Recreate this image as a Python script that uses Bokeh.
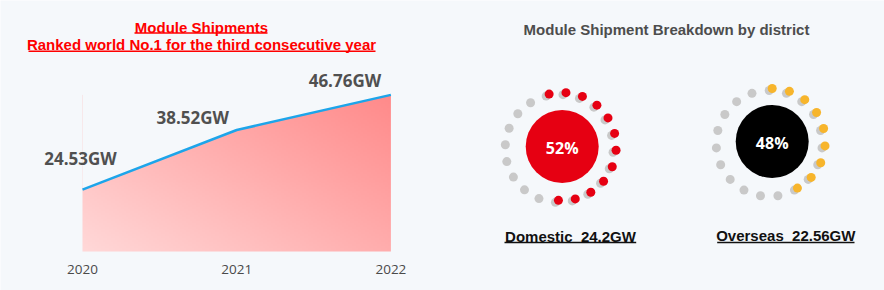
import math
import numpy as np
from bokeh.plotting import figure
from bokeh.models import Range1d
from bokeh.core.properties import value
from bokeh.embed import file_html
from bokeh.resources import INLINE

# ---------------- data ----------------
years = [2020, 2021, 2022]
year_labels = ["2020", "2021", "2022"]
shipments_gw = [24.53, 38.52, 46.76]
shipment_labels = ["24.53GW", "38.52GW", "46.76GW"]
base_gw = 10

districts = ["Domestic", "Overseas"]
district_gw = [24.2, 22.56]
district_share = [52, 48]
district_labels = ["Domestic \u00a024.2GW", "Overseas \u00a022.56GW"]
colored_dots = [12, 9]
total_dots = [20, 19]

left_titles = ["Module Shipments", "Ranked world No.1 for the third consecutive year"]
right_title = "Module Shipment Breakdown by district"

# ---------------- layout / style ----------------
W, H = 884, 290
BG = "#f5f8fb"
PX_PER_YEAR = 154.2
X2020_PX = 82
PX_PER_GW = 4.26
BASE_PX = 251

p = figure(width=W, height=H, x_range=Range1d(0, W), y_range=Range1d(H, 0),
           output_backend="svg", toolbar_location=None,
           x_axis_type=None, y_axis_type=None, min_border=0,
           outline_line_color=None, background_fill_color=BG, border_fill_color=BG)
for g in p.grid:
    g.visible = False

yr0 = years[0] - X2020_PX / PX_PER_YEAR
p.extra_x_ranges = {"yrs": Range1d(yr0, yr0 + W / PX_PER_YEAR)}
gw0 = base_gw - (H - BASE_PX) / PX_PER_GW
p.extra_y_ranges = {"gw": Range1d(gw0, gw0 + H / PX_PER_GW)}

# gradient fill under the line: pink gradient image over the bounding box,
# then the part above the line is covered with the background colour
ny, nx = 80, 160
u = np.linspace(0, 1, nx)[None, :]
v = np.linspace(0, 1, ny)[:, None]
t = np.clip(0.55 * u + 0.45 * v, 0, 1)
light = np.array([0xff, 0xd8, 0xd8], dtype=float)
dark = np.array([0xff, 0x8a, 0x8a], dtype=float)
img = np.zeros((ny, nx), dtype=np.uint32)
view = img.view(dtype=np.uint8).reshape((ny, nx, 4))
for ch in range(3):
    view[:, :, ch] = (light[ch] + (dark[ch] - light[ch]) * t).astype(np.uint8)
view[:, :, 3] = 255
top_gw = max(shipments_gw)
p.image_rgba(image=[img], x=years[0], y=base_gw, dw=years[-1] - years[0],
             dh=top_gw - base_gw, x_range_name="yrs", y_range_name="gw")
p.varea(x=years, y1=shipments_gw, y2=[top_gw + 1] * len(years), fill_color=BG,
        x_range_name="yrs", y_range_name="gw")

p.line(years, shipments_gw, line_color="#1da5ea", line_width=2.5,
       x_range_name="yrs", y_range_name="gw")

p.text(x=years, y=shipments_gw, text=shipment_labels,
       x_offset=[-2, -44, -46], y_offset=[-31, -13, -14],
       text_font=value("Open Sans"), text_font_style="bold", text_font_size="17px",
       text_color="#505050", text_align="center", text_baseline="middle",
       x_range_name="yrs", y_range_name="gw")

p.text(x=years, y=[269] * len(years), text=year_labels,
       text_font=value("Open Sans"), text_font_size="13.5px", text_color="#4a4a4a",
       text_align="center", text_baseline="middle", x_range_name="yrs")

# left titles
p.text(x=[201, 201], y=[26.5, 43.5], text=left_titles,
       text_font=value("Liberation Sans"), text_font_style="bold", text_font_size="15px",
       text_color="#ff0000", text_align="center", text_baseline="middle")
p.segment(x0=[134, 28], y0=[32.5, 50.7], x1=[267, 375], y1=[32.5, 50.7],
          line_color="#ff0000", line_width=1.5)

# right title
p.text(x=[666], y=[28.5], text=[right_title],
       text_font=value("Liberation Sans"), text_font_style="bold", text_font_size="15px",
       text_color="#4d4d4d", text_align="center", text_baseline="middle")

# donuts
centers = [(561.7, 146.0), (771.7, 141.0)]
main_colors = ["#e60012", "#000000"]
dot_colors = ["#e60012", "#f7b52c"]
start_deg = [-14, 0]
radii = [54, 53]
for i in range(len(districts)):
    cx, cy = centers[i]
    n = total_dots[i]
    step = 360.0 / n
    ang = [math.radians(start_deg[i] + step * k) for k in range(n)]
    gx = [cx + radii[i] * math.sin(a) - 3 for a in ang]
    gy = [cy - radii[i] * math.cos(a) + 2 for a in ang]
    p.scatter(gx, gy, size=9, fill_color="#c9c9c9", line_color=None)
    c = colored_dots[i]
    p.scatter([cx + radii[i] * math.sin(a) for a in ang[:c]],
              [cy - radii[i] * math.cos(a) for a in ang[:c]],
              size=9, fill_color=dot_colors[i], line_color=None)
    p.scatter([cx], [cy], size=73, fill_color=main_colors[i], line_color=None)

p.text(x=[c[0] for c in centers], y=[c[1] + 1 for c in centers],
       text=[f"{s}%" for s in district_share],
       text_font=value("Open Sans"), text_font_style="bold", text_font_size="16px",
       text_color="#ffffff", text_align="center", text_baseline="middle")

p.text(x=[570, 785.3], y=[235.5, 235], text=district_labels,
       text_font=value("Liberation Sans"), text_font_style="bold", text_font_size="15px",
       text_color="#111111", text_align="center", text_baseline="middle")
p.segment(x0=[504, 716.7], y0=[242, 242], x1=[635.7, 854], y1=[242, 242],
          line_color="#111111", line_width=1.5)

open("out.html", "w").write(file_html(p, INLINE))
